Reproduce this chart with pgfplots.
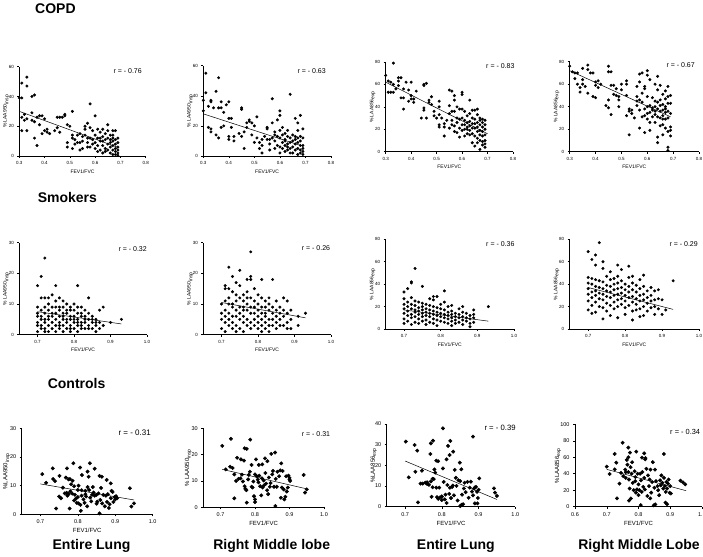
\documentclass[border=0pt]{standalone}
\usepackage{fontspec}
\setmainfont{Liberation Sans}
\usepackage{pgfplots}
\pgfplotsset{compat=1.18}

\pgfplotsset{
  panel/.style={
    scale only axis, anchor=south west, clip=false,
    axis x line*=bottom, axis y line*=left,
    axis line style={black, line width=0.6pt},
    tick align=outside, major tick length=2pt,
    tick style={black, line width=0.5pt},
    /pgf/number format/assume math mode=true,
    ticklabel style={font=\fontsize{4.5}{5}\selectfont},
    x tick label style={/pgf/number format/.cd, fixed, fixed zerofill, precision=1, /tikz/.cd},
    label style={font=\fontsize{5}{6}\selectfont},
    xlabel={FEV1/FVC},
    xlabel style={yshift=2pt},
    ylabel style={at={(axis description cs:0,0.5)}, anchor=center, yshift=13pt},
  },
  big/.style={
    ticklabel style={font=\fontsize{5.5}{6}\selectfont},
    label style={font=\fontsize{6}{7}\selectfont},
  },
  copdx/.style={xmin=0.3, xmax=0.8, xtick={0.3,0.4,0.5,0.6,0.7,0.8}},
  smkx/.style={xmin=0.65, xmax=1.0, xtick={0.7,0.8,0.9,1.0}},
  dots/.style={only marks, mark=*, mark size=1.3pt, black},
  bigdots/.style={only marks, mark=*, mark size=1.75pt, black},
  fit/.style={black, line width=0.5pt, no marks},
}

\begin{document}
\begin{tikzpicture}[x=1pt, y=1pt]
\path[use as bounding box] (0,0) rectangle (703,556);

% ---------------- COPD ----------------
\begin{axis}[panel, copdx, at={(19.3pt,400pt)}, width=126.4pt, height=89.3pt,
  ymin=0, ymax=60, ytick={0,20,40,60}, ylabel={\% LAA950\textsubscript{insp}}]
\addplot[dots] coordinates {
(0.31,49)(0.33,53)(0.33,47)(0.30,39)(0.31,39)(0.35,40)(0.36,41)(0.31,26)(0.32,28)(0.32,24)
(0.33,25)(0.31,17)(0.33,17)(0.35,29)(0.35,24)(0.36,23)(0.36,12)(0.37,7)(0.37,26)(0.38,27)
(0.38,21)(0.39,27)(0.39,15)(0.40,25)(0.40,17)(0.41,18)(0.41,16)(0.42,15)(0.44,17)(0.45,26)
(0.46,26)(0.47,26)(0.45,19)(0.46,16)(0.48,28)(0.48,27)(0.49,21)(0.50,20)(0.49,9)(0.49,6)
(0.51,30)(0.51,14)(0.51,12)(0.51,5)(0.52,11)(0.52,8)(0.53,14)(0.54,15)(0.54,9)(0.54,4)
(0.55,13)(0.55,5)(0.56,20)(0.56,18)(0.57,22)(0.57,12)(0.57,9)(0.58,35)(0.58,12)(0.58,6)
(0.59,17)(0.59,11)(0.60,27)(0.60,14)(0.60,9)(0.60,5)(0.61,18)(0.61,12)(0.61,7)(0.61,3)
(0.62,16)(0.62,10)(0.62,4)(0.63,18)(0.63,13)(0.63,7)(0.63,2)(0.64,15)(0.64,11)(0.64,5)
(0.64,3)(0.65,21)(0.65,17)(0.65,12)(0.65,8)(0.65,4)(0.66,14)(0.66,9)(0.66,6)(0.66,2)
(0.67,17)(0.67,12)(0.67,10)(0.67,7)(0.67,4)(0.67,1)(0.68,17)(0.68,11)(0.68,8)(0.68,5)
(0.68,3)(0.68,1)(0.69,12)(0.69,9)(0.69,6)(0.69,4)(0.69,2)(0.69,0.5)(0.58,19)(0.59,8)
(0.62,12)(0.63,10)(0.66,11)(0.67,14)(0.56,14)(0.55,10)(0.53,9)(0.57,6)
};
\addplot[fit] coordinates {(0.30,30) (0.69,5.8)};
\end{axis}

\begin{axis}[panel, copdx, at={(203.3pt,400pt)}, width=127.7pt, height=90.3pt,
  ymin=0, ymax=60, ytick={0,20,40,60}, ylabel={\% LAA950\textsubscript{insp}}]
\addplot[dots] coordinates {
(0.30,37)(0.31,55)(0.31,42)(0.30,30)(0.36,52)(0.35,43)(0.33,37)(0.33,36)(0.32,33)(0.34,32)
(0.36,32)(0.37,36)(0.37,32)(0.38,29)(0.39,34)(0.40,36)(0.40,25)(0.41,25)(0.41,19)(0.38,20)
(0.33,18)(0.32,19)(0.33,16)(0.35,14)(0.36,12)(0.37,19)(0.40,13)(0.40,11)(0.42,10)(0.42,13)
(0.45,32)(0.45,31)(0.44,15)(0.45,13)(0.46,5)(0.46,16)(0.47,22)(0.47,19)(0.48,23)(0.48,24)
(0.49,22)(0.49,14)(0.50,20)(0.50,9)(0.51,26)(0.51,12)(0.52,9)(0.52,5)(0.53,11)(0.53,7)
(0.53,2)(0.54,13)(0.55,19)(0.55,18)(0.55,11)(0.56,8)(0.56,4)(0.57,38)(0.57,22)(0.57,12)
(0.58,16)(0.58,10)(0.58,5)(0.59,24)(0.59,13)(0.59,7)(0.60,30)(0.60,27)(0.60,17)(0.60,12)
(0.60,6)(0.60,2)(0.61,19)(0.61,14)(0.61,9)(0.62,15)(0.62,11)(0.62,7)(0.62,3)(0.63,17)
(0.63,13)(0.63,8)(0.63,4)(0.64,41)(0.64,12)(0.64,9)(0.64,5)(0.65,14)(0.65,10)(0.65,6)
(0.65,2)(0.66,25)(0.66,13)(0.66,8)(0.66,4)(0.67,22)(0.67,17)(0.67,12)(0.67,9)(0.67,5)
(0.67,1)(0.68,27)(0.68,13)(0.68,10)(0.68,7)(0.68,4)(0.68,2)(0.69,18)(0.69,12)(0.69,7)
(0.69,5)(0.69,3)(0.69,1)(0.56,11)(0.58,14)(0.61,5)(0.62,10)(0.63,6)(0.64,2)(0.66,11)
};
\addplot[fit] coordinates {(0.30,28) (0.69,6.5)};
\end{axis}

\begin{axis}[panel, copdx, at={(385.7pt,404.3pt)}, width=127.3pt, height=89.7pt,
  ymin=0, ymax=80, ytick={0,20,40,60,80}, ylabel={\% LAA856\textsubscript{exp}}]
\addplot[dots] coordinates {
(0.30,68)(0.33,79)(0.31,63)(0.32,62)(0.31,53)(0.32,53)(0.33,53)(0.33,60)(0.34,56)(0.35,66)
(0.35,63)(0.36,66)(0.35,59)(0.36,48)(0.37,48)(0.37,38)(0.37,56)(0.38,62)(0.39,55)(0.39,45)
(0.40,62)(0.40,50)(0.40,47)(0.41,47)(0.41,44)(0.42,54)(0.44,30)(0.45,59)(0.45,60)(0.46,61)
(0.45,39)(0.45,37)(0.46,30)(0.47,46)(0.47,44)(0.48,49)(0.48,42)(0.49,36)(0.49,32)(0.50,30)
(0.51,45)(0.51,40)(0.51,33)(0.51,24)(0.51,22)(0.52,30)(0.53,14)(0.53,25)(0.53,22)(0.54,28)
(0.55,55)(0.55,41)(0.55,34)(0.55,21)(0.56,54)(0.56,36)(0.56,28)(0.56,24)(0.57,50)(0.57,46)
(0.57,36)(0.57,23)(0.57,18)(0.58,40)(0.58,30)(0.58,26)(0.58,17)(0.59,38)(0.59,29)(0.59,21)
(0.59,13)(0.60,53)(0.60,51)(0.60,38)(0.60,30)(0.60,24)(0.60,19)(0.61,36)(0.61,28)(0.61,20)
(0.61,14)(0.62,32)(0.62,26)(0.62,22)(0.62,16)(0.63,46)(0.63,34)(0.63,27)(0.63,23)(0.63,19)
(0.64,37)(0.64,30)(0.64,25)(0.64,16)(0.64,8)(0.65,37)(0.65,29)(0.65,21)(0.65,14)(0.65,5)
(0.66,38)(0.66,33)(0.66,26)(0.66,18)(0.66,12)(0.66,8)(0.67,28)(0.67,24)(0.67,19)(0.67,15)
(0.67,10)(0.67,2)(0.68,29)(0.68,26)(0.68,22)(0.68,18)(0.68,14)(0.68,9)(0.68,6)(0.69,28)
(0.69,24)(0.69,20)(0.69,15)(0.69,10)(0.69,7)(0.69,4)(0.62,20)(0.64,21)(0.65,25)(0.61,24)
(0.63,15)(0.66,22)(0.67,30)
};
\addplot[fit] coordinates {(0.30,62) (0.70,16)};
\end{axis}

\begin{axis}[panel, copdx, at={(569.7pt,404.3pt)}, width=129.3pt, height=90pt,
  ymin=0, ymax=80, ytick={0,20,40,60,80}, ylabel={\% LAA856\textsubscript{exp}}]
\addplot[dots] coordinates {
(0.30,76)(0.31,71)(0.32,70)(0.33,70)(0.32,65)(0.33,60)(0.34,57)(0.34,53)(0.35,74)(0.35,64)
(0.35,60)(0.37,77)(0.37,73)(0.36,58)(0.37,52)(0.38,70)(0.39,70)(0.39,49)(0.40,48)(0.40,62)
(0.40,59)(0.41,63)(0.41,57)(0.42,60)(0.45,76)(0.45,71)(0.46,71)(0.46,59)(0.47,59)(0.44,41)
(0.45,46)(0.45,39)(0.46,33)(0.47,51)(0.48,56)(0.48,50)(0.49,49)(0.49,46)(0.50,60)(0.50,55)
(0.49,40)(0.52,63)(0.52,60)(0.52,50)(0.52,32)(0.53,38)(0.53,36)(0.53,15)(0.54,37)(0.54,34)
(0.55,30)(0.56,58)(0.56,49)(0.56,45)(0.56,41)(0.57,69)(0.57,62)(0.57,46)(0.57,37)(0.57,21)
(0.58,70)(0.58,52)(0.58,44)(0.58,31)(0.59,58)(0.59,56)(0.59,38)(0.59,32)(0.59,17)(0.60,72)
(0.60,68)(0.60,49)(0.60,40)(0.60,34)(0.60,29)(0.61,64)(0.61,41)(0.61,35)(0.61,26)(0.61,19)
(0.62,48)(0.62,37)(0.62,31)(0.63,60)(0.63,45)(0.63,40)(0.63,33)(0.63,26)(0.64,67)(0.64,55)
(0.64,44)(0.64,38)(0.64,31)(0.64,13)(0.64,8)(0.65,59)(0.65,46)(0.65,36)(0.65,30)(0.65,23)
(0.66,51)(0.66,42)(0.66,37)(0.66,32)(0.66,24)(0.66,15)(0.67,54)(0.67,47)(0.67,40)(0.67,35)
(0.67,29)(0.67,21)(0.68,58)(0.68,49)(0.68,43)(0.68,36)(0.68,30)(0.68,18)(0.68,4)(0.68,1)
(0.69,50)(0.69,43)(0.69,34)(0.69,22)(0.69,19)(0.69,14)(0.62,39)(0.65,41)(0.67,38)(0.66,29)
(0.63,36)
};
\addplot[fit] coordinates {(0.30,72) (0.69,31)};
\end{axis}

% ---------------- Smokers ----------------
\begin{axis}[panel, smkx, at={(19.3pt,221.3pt)}, width=127.7pt, height=92pt,
  ymin=0, ymax=30, ytick={0,10,20,30}, ylabel={\% LAA950\textsubscript{insp}}]
\addplot[dots] coordinates {
(0.70,16)(0.70,9)(0.70,7)(0.70,6)(0.70,4)(0.70,3)(0.70,1)
(0.71,19)(0.71,12)(0.71,8)(0.71,6)(0.71,5)(0.71,3)(0.71,2)
(0.72,25)(0.72,12)(0.72,9)(0.72,7)(0.72,5)(0.72,4)(0.72,2)(0.72,1)
(0.73,12)(0.73,10)(0.73,8)(0.73,6)(0.73,5)(0.73,3)(0.73,1)
(0.74,13)(0.74,9)(0.74,7)(0.74,6)(0.74,4)(0.74,2)
(0.75,16)(0.75,11)(0.75,9)(0.75,7)(0.75,5)(0.75,3)(0.75,1)
(0.76,12)(0.76,9)(0.76,8)(0.76,6)(0.76,4)(0.76,3)(0.76,2)
(0.77,11)(0.77,9)(0.77,7)(0.77,6)(0.77,5)(0.77,3)(0.77,1)
(0.78,10)(0.78,8)(0.78,7)(0.78,5)(0.78,4)(0.78,2)
(0.79,9)(0.79,8)(0.79,6)(0.79,5)(0.79,3)(0.79,2)(0.79,1)
(0.80,10)(0.80,8)(0.80,6)(0.80,5)(0.80,4)(0.80,2)
(0.81,16)(0.81,9)(0.81,7)(0.81,5)(0.81,4)(0.81,3)(0.81,1)
(0.82,9)(0.82,7)(0.82,6)(0.82,4)(0.82,3)(0.82,2)
(0.83,8)(0.83,6)(0.83,5)(0.83,4)(0.83,2)
(0.84,12)(0.84,7)(0.84,5)(0.84,3)(0.84,2)
(0.85,6)(0.85,5)(0.85,4)(0.85,2)
(0.86,5)(0.86,4)(0.86,3)(0.86,1)
(0.87,8)(0.87,4)(0.87,2)
(0.88,9)(0.88,3)(0.90,4)(0.93,5)
};
\addplot[fit] coordinates {(0.70,7.5) (0.93,3.5)};
\end{axis}

\begin{axis}[panel, smkx, at={(203.3pt,221.3pt)}, width=127.7pt, height=92pt,
  ymin=0, ymax=30, ytick={0,10,20,30}, ylabel={\% LAA950\textsubscript{insp}}]
\addplot[dots] coordinates {
(0.70,10)(0.70,7)(0.70,5)(0.70,2)
(0.71,16)(0.71,15)(0.71,11)(0.71,8)(0.71,6)(0.71,4)(0.71,1)
(0.72,22)(0.72,15)(0.72,12)(0.72,10)(0.72,7)(0.72,5)(0.72,3)
(0.73,19)(0.73,14)(0.73,10)(0.73,9)(0.73,6)(0.73,4)(0.73,2)
(0.74,17)(0.74,13)(0.74,11)(0.74,8)(0.74,6)(0.74,3)(0.74,1)
(0.75,21)(0.75,16)(0.75,12)(0.75,9)(0.75,7)(0.75,5)(0.75,2)
(0.76,13)(0.76,11)(0.76,9)(0.76,8)(0.76,6)(0.76,4)(0.76,1)
(0.77,18)(0.77,14)(0.77,12)(0.77,10)(0.77,8)(0.77,5)(0.77,3)
(0.78,27)(0.78,19)(0.78,18)(0.78,12)(0.78,9)(0.78,7)(0.78,4)(0.78,2)
(0.79,15)(0.79,11)(0.79,9)(0.79,7)(0.79,5)(0.79,3)
(0.80,13)(0.80,10)(0.80,8)(0.80,6)(0.80,4)(0.80,2)
(0.81,18)(0.81,12)(0.81,9)(0.81,7)(0.81,5)(0.81,3)(0.81,1)
(0.82,11)(0.82,9)(0.82,7)(0.82,6)(0.82,4)(0.82,2)
(0.83,12)(0.83,10)(0.83,8)(0.83,5)(0.83,3)(0.83,1)
(0.84,18)(0.84,9)(0.84,7)(0.84,5)(0.84,3)
(0.85,11)(0.85,8)(0.85,6)(0.85,4)(0.85,2)
(0.86,9)(0.86,7)(0.86,5)(0.86,3)
(0.87,12)(0.87,8)(0.87,6)(0.87,3)
(0.88,11)(0.88,7)(0.88,4)(0.88,2)
(0.89,8)(0.89,5)(0.89,2)
(0.91,6)(0.91,3)(0.93,7)
};
\addplot[fit] coordinates {(0.70,10.5) (0.93,5.5)};
\end{axis}

\begin{axis}[panel, smkx, at={(385.7pt,227pt)}, width=128.3pt, height=89.7pt,
  ymin=0, ymax=80, ytick={0,20,40,60,80}, ylabel={\% LAA856\textsubscript{exp}}]
\addplot[dots] coordinates {
(0.70,33)(0.70,27)(0.70,22)(0.70,18)(0.70,14)(0.70,9)(0.70,5)
(0.71,36)(0.71,24)(0.71,20)(0.71,16)(0.71,12)(0.71,7)
(0.72,42)(0.72,41)(0.72,28)(0.72,22)(0.72,18)(0.72,13)(0.72,10)(0.72,4)
(0.73,54)(0.73,25)(0.73,21)(0.73,17)(0.73,15)(0.73,11)(0.73,6)
(0.74,24)(0.74,19)(0.74,16)(0.74,13)(0.74,9)(0.74,5)
(0.75,38)(0.75,23)(0.75,20)(0.75,17)(0.75,14)(0.75,11)(0.75,7)
(0.76,22)(0.76,18)(0.76,15)(0.76,12)(0.76,8)(0.76,4)
(0.77,27)(0.77,21)(0.77,17)(0.77,14)(0.77,11)(0.77,6)
(0.78,29)(0.78,26)(0.78,20)(0.78,16)(0.78,13)(0.78,9)(0.78,5)
(0.79,29)(0.79,19)(0.79,15)(0.79,12)(0.79,8)(0.79,3)
(0.80,22)(0.80,18)(0.80,14)(0.80,11)(0.80,7)
(0.81,34)(0.81,24)(0.81,17)(0.81,13)(0.81,10)(0.81,6)
(0.82,20)(0.82,15)(0.82,12)(0.82,9)(0.82,5)
(0.83,21)(0.83,16)(0.83,13)(0.83,10)(0.83,7)(0.83,3)
(0.84,14)(0.84,11)(0.84,8)(0.84,5)
(0.85,18)(0.85,13)(0.85,10)(0.85,6)
(0.86,20)(0.86,15)(0.86,11)(0.86,8)(0.86,4)
(0.87,14)(0.87,10)(0.87,7)
(0.88,12)(0.88,9)(0.88,5)(0.88,2)
(0.89,17)(0.89,13)(0.89,10)(0.89,6)
(0.93,20)
};
\addplot[fit] coordinates {(0.70,17) (0.93,7)};
\end{axis}

\begin{axis}[panel, smkx, at={(569.7pt,227pt)}, width=129.3pt, height=89.7pt,
  ymin=0, ymax=80, ytick={0,20,40,60,80}, ylabel={\% LAA856\textsubscript{exp}}]
\addplot[dots] coordinates {
(0.70,69)(0.70,46)(0.70,41)(0.70,36)(0.70,31)(0.70,25)(0.70,17)
(0.71,62)(0.71,45)(0.71,40)(0.71,33)(0.71,28)(0.71,21)(0.71,14)
(0.72,66)(0.72,57)(0.72,44)(0.72,38)(0.72,34)(0.72,30)(0.72,24)(0.72,15)
(0.73,77)(0.73,43)(0.73,37)(0.73,32)(0.73,27)(0.73,20)
(0.74,54)(0.74,60)(0.74,42)(0.74,36)(0.74,31)(0.74,26)(0.74,19)(0.74,9)
(0.75,47)(0.75,39)(0.75,34)(0.75,29)(0.75,23)(0.75,16)
(0.76,51)(0.76,44)(0.76,38)(0.76,33)(0.76,28)(0.76,21)(0.76,12)
(0.77,45)(0.77,40)(0.77,35)(0.77,30)(0.77,24)(0.77,18)
(0.78,57)(0.78,47)(0.78,41)(0.78,36)(0.78,31)(0.78,26)(0.78,20)(0.78,10)
(0.79,53)(0.79,43)(0.79,37)(0.79,32)(0.79,27)(0.79,22)
(0.80,40)(0.80,35)(0.80,30)(0.80,25)(0.80,19)(0.80,13)
(0.81,56)(0.81,46)(0.81,38)(0.81,33)(0.81,28)(0.81,21)
(0.82,47)(0.82,41)(0.82,35)(0.82,29)(0.82,24)(0.82,16)(0.82,8)
(0.83,39)(0.83,33)(0.83,27)(0.83,22)(0.83,17)
(0.84,44)(0.84,36)(0.84,30)(0.84,25)(0.84,18)(0.84,11)
(0.85,48)(0.85,38)(0.85,31)(0.85,26)(0.85,20)(0.85,12)
(0.86,34)(0.86,28)(0.86,23)(0.86,16)
(0.87,37)(0.87,30)(0.87,25)(0.87,19)
(0.88,34)(0.88,26)(0.88,20)(0.88,13)
(0.89,35)(0.89,27)(0.89,18)
(0.90,26)(0.90,13)(0.91,17)(0.93,43)
};
\addplot[fit] coordinates {(0.70,37) (0.93,17.5)};
\end{axis}

% ---------------- Controls ----------------
\begin{axis}[panel, big, smkx, at={(21.7pt,41.7pt)}, width=131pt, height=86pt,
  ymin=0, ymax=30, ytick={0,10,20,30}, ylabel={\%LAA950\textsubscript{insp}},
  ylabel style={yshift=2pt}]
\addplot[bigdots] coordinates {
(0.705,14)(0.715,11)(0.733,16)(0.734,12.3)(0.739,11.6)(0.742,2)(0.751,13.4)(0.75,6.2)(0.755,5.6)(0.76,9.3)
(0.771,16)(0.775,12.2)(0.779,12.3)(0.786,11.7)(0.788,17.8)(0.775,7)(0.778,2)(0.806,16.3)(0.811,13.7)(0.807,3.3)
(0.808,1.2)(0.826,14.9)(0.832,17.8)(0.829,13.1)(0.845,15.9)(0.858,13.4)(0.864,13.1)(0.877,12)(0.888,10.8)(0.858,0.3)
(0.939,9.1)(0.943,2.7)(0.95,3.8)(0.77,7.5)(0.772,6.5)(0.78,8)(0.782,10.5)(0.785,7.2)(0.79,9.8)(0.792,6.8)
(0.795,5.5)(0.797,4)(0.80,8.5)(0.80,6)(0.802,3.8)(0.81,8.4)(0.815,5.2)(0.818,4)(0.82,7)(0.822,6.2)
(0.825,2.8)(0.83,8.5)(0.833,5.8)(0.836,4.5)(0.84,9.5)(0.842,7.6)(0.845,6.5)(0.85,3.7)(0.852,4.4)(0.855,7.3)
(0.86,5)(0.862,9.2)(0.865,3.8)(0.868,6.8)(0.872,2.8)(0.875,6.5)(0.878,4.3)(0.88,7)(0.883,2.2)(0.885,3.5)
(0.888,5.6)(0.89,8.2)(0.893,7.8)(0.895,4.3)(0.898,6)(0.90,5.2)(0.902,6.3)(0.905,5.6)(0.838,6.8)(0.826,9.5)
(0.82,8.2)(0.81,6.5)(0.79,4.8)(0.765,7.3)(0.768,12.8)(0.802,10)(0.85,6.8)
};
\addplot[fit] coordinates {(0.70,10.6) (0.95,5)};
\end{axis}

\begin{axis}[panel, big, smkx, at={(203.3pt,48.7pt)}, width=120.7pt, height=79pt,
  ymin=0, ymax=30, ytick={0,10,20,30}, ylabel={\% LAA950\textsubscript{insp}},
  ylabel style={yshift=2pt}]
\addplot[bigdots] coordinates {
(0.705,23.3)(0.73,26)(0.786,25.7)(0.77,22.4)(0.776,22.2)(0.759,18.2)(0.768,17.7)(0.803,18.2)(0.858,20.8)(0.847,20.3)
(0.829,18.6)(0.836,17.5)(0.748,18.8)(0.715,14.4)(0.728,15.4)(0.735,14.9)(0.79,16.1)(0.811,16.1)(0.821,16.3)(0.876,16.7)
(0.941,12.3)(0.74,3.4)(0.776,1.8)(0.859,0.5)(0.945,5.6)(0.95,6.8)(0.745,10)(0.752,10.8)(0.758,11)(0.765,9.8)
(0.77,8)(0.772,7)(0.775,6.5)(0.78,10.6)(0.782,12.3)(0.785,13.5)(0.79,7.8)(0.793,7.5)(0.795,9.8)(0.797,4.2)
(0.80,3)(0.80,2)(0.805,11.8)(0.808,10.5)(0.81,9.5)(0.812,12)(0.815,8)(0.818,4.5)(0.82,11)(0.822,7.5)
(0.825,10.2)(0.83,13)(0.832,9)(0.835,6.5)(0.838,5)(0.84,11.3)(0.843,7.8)(0.845,9.2)(0.85,12.5)(0.852,13.8)
(0.855,7.8)(0.86,10.8)(0.863,7.8)(0.865,13.5)(0.87,11.8)(0.873,14)(0.875,3.6)(0.878,7.5)(0.88,13.8)(0.883,6.8)
(0.885,3)(0.888,4)(0.89,11.8)(0.892,6)(0.895,7.5)(0.897,12)(0.90,10.5)(0.90,11.2)(0.902,10)(0.826,8.3)
(0.80,12.5)(0.762,12.4)(0.74,12.5)
};
\addplot[fit] coordinates {(0.705,14.4) (0.95,7)};
\end{axis}

\begin{axis}[panel, big, smkx, at={(386.7pt,49.3pt)}, width=128.6pt, height=82.7pt,
  ymin=0, ymax=40, ytick={0,10,20,30,40}, ylabel={\%LAA856\textsubscript{exp}}]
\addplot[bigdots] coordinates {
(0.702,31.5)(0.726,29.8)(0.733,27.1)(0.776,31.9)(0.77,30.6)(0.803,37.9)(0.823,31.8)(0.817,29.4)(0.831,26.6)(0.885,33.9)
(0.71,14.2)(0.728,16.9)(0.746,17.4)(0.785,22.3)(0.79,22)(0.769,25.5)(0.821,25)(0.849,21.3)(0.813,22.9)(0.853,18.1)
(0.735,2.1)(0.772,4.8)(0.902,13.7)(0.942,8.9)(0.945,6.8)(0.95,5.2)(0.853,0.8)(0.858,1.2)(0.89,1.6)(0.897,1.6)
(0.85,0.3)(0.748,11.2)(0.755,11.6)(0.76,11.8)(0.765,10.6)(0.77,12.2)(0.775,9.4)(0.778,13.3)(0.78,18)(0.782,16.5)
(0.785,9.2)(0.787,4.6)(0.79,3.8)(0.793,9.2)(0.795,4.5)(0.80,3.2)(0.80,5)(0.803,18.5)(0.805,12)(0.808,3.5)
(0.81,5.8)(0.813,1.8)(0.815,10.5)(0.82,6.2)(0.822,9.2)(0.825,4.2)(0.828,9.5)(0.83,10.2)(0.833,5.5)(0.835,17.8)
(0.838,14)(0.84,10.1)(0.843,3)(0.845,12.8)(0.85,12.4)(0.855,5.8)(0.86,8.8)(0.862,11.6)(0.865,7)(0.87,12)
(0.873,4.3)(0.876,9.2)(0.879,12.1)(0.882,7.3)(0.885,5.5)(0.888,8.8)(0.89,9.3)(0.893,9.6)(0.896,7.2)(0.898,4.2)
(0.90,8.2)(0.775,13.5)(0.76,11)(0.742,11.2)(0.80,4.8)(0.855,1)
};
\addplot[fit] coordinates {(0.70,22.1) (0.95,3.5)};
\end{axis}

\begin{axis}[panel, big, at={(575pt,49.3pt)}, width=127pt, height=82.4pt,
  xmin=0.6, xmax=1.0, xtick={0.6,0.7,0.8,0.9,1.0},
  ymin=0, ymax=100, ytick={0,20,40,60,80,100}, ylabel={\%LAA856\textsubscript{exp}},
  ylabel style={yshift=4pt}]
\addplot[bigdots] coordinates {
(0.70,48.6)(0.709,39.7)(0.725,64)(0.73,53.4)(0.725,45.3)(0.75,77.7)(0.768,71.7)(0.763,56.7)(0.768,60)(0.773,65.6)
(0.793,66.8)(0.811,59.5)(0.818,64.8)(0.821,57.5)(0.88,64)(0.732,10.1)(0.77,7.3)(0.776,10)(0.807,2)(0.837,10.1)
(0.848,1.5)(0.853,2.8)(0.885,4.9)(0.89,3)(0.932,31.6)(0.94,29.5)(0.947,27.1)(0.74,28)(0.745,41)(0.752,37)
(0.758,45)(0.76,35)(0.765,51)(0.768,42)(0.77,33)(0.772,22)(0.775,48)(0.778,40)(0.78,54)(0.782,29)
(0.785,20)(0.788,43)(0.79,36)(0.792,17)(0.795,21)(0.797,40)(0.80,14)(0.80,27)(0.803,20)(0.805,40)
(0.808,32)(0.81,18)(0.812,42)(0.815,24)(0.818,35)(0.82,21)(0.822,59)(0.825,46)(0.828,13)(0.83,38)
(0.833,25)(0.835,33)(0.838,45)(0.84,17)(0.843,30)(0.845,54)(0.85,23)(0.852,45)(0.855,31)(0.86,25)
(0.862,20)(0.865,14)(0.868,32)(0.87,26)(0.872,38)(0.875,29)(0.878,22)(0.88,35)(0.883,25)(0.886,18)
(0.888,30)(0.89,22)(0.893,28)(0.895,33)(0.898,17)(0.90,25)(0.902,16)(0.79,31)(0.76,42)
};
\addplot[fit] coordinates {(0.70,45.3) (0.95,19.4)};
\end{axis}

% ---------------- texts ----------------
\node[anchor=base west, font=\fontsize{14}{16}\selectfont\bfseries] at (31.7,542.7) {COPD};
\node[anchor=base west, font=\fontsize{14}{16}\selectfont\bfseries] at (34.3,353.3) {Smokers};
\node[anchor=base west, font=\fontsize{14}{16}\selectfont\bfseries] at (44.3,167) {Controls};

\begin{scope}[every node/.style={anchor=base west, font=\fontsize{7}{8}\selectfont}]
\node at (110,482) {r = - 0.76};
\node at (294,482.7) {r = - 0.63};
\node at (482.7,487) {r = - 0.83};
\node at (663,488.7) {r = - 0.67};
\node at (115,304.3) {r = - 0.32};
\node at (298.3,305) {r = - 0.26};
\node at (482.7,309.3) {r = - 0.36};
\node at (666,309) {r = - 0.29};
\node[font=\fontsize{8}{9}\selectfont] at (115,120) {r = - 0.31};
\node at (298.3,119.3) {r = - 0.31};
\node[font=\fontsize{7.7}{9}\selectfont] at (481,125) {r = - 0.39};
\node[font=\fontsize{7.4}{9}\selectfont] at (666.7,121.7) {r = - 0.34};
\end{scope}

\begin{scope}[every node/.style={anchor=base, font=\fontsize{14}{16}\selectfont\bfseries}]
\node at (91.5,6) {Entire Lung};
\node at (271.7,6) {Right Middle lobe};
\node at (455.8,6) {Entire Lung};
\node at (639,6) {Right Middle Lobe};
\end{scope}
\end{tikzpicture}
\end{document}
